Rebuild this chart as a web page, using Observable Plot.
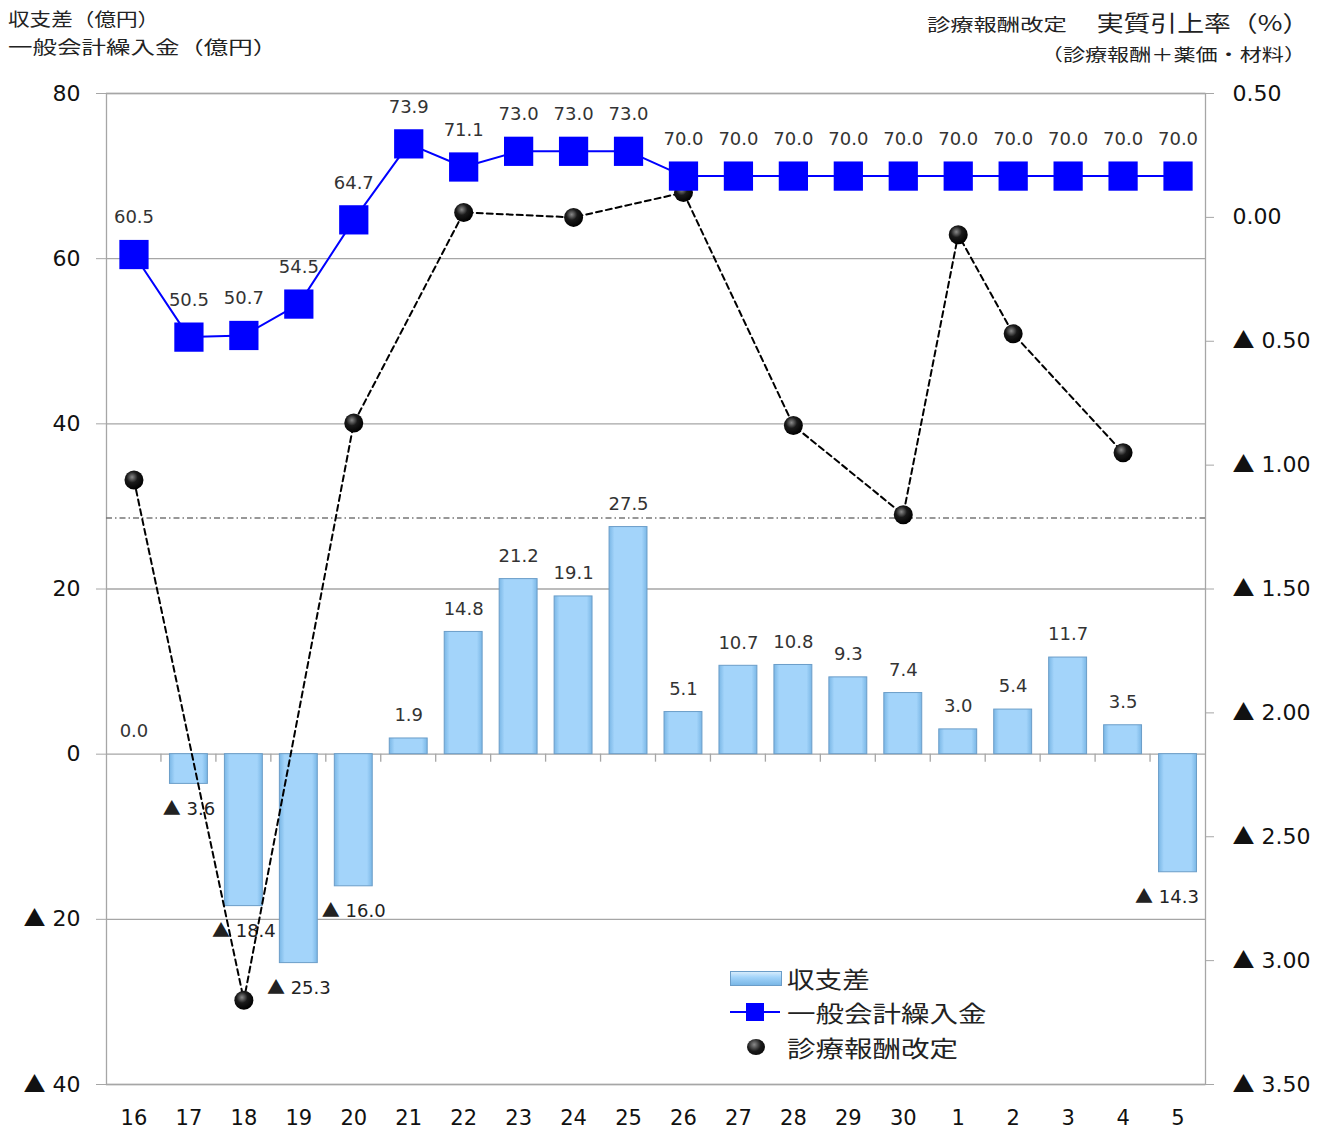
<!DOCTYPE html>
<html><head><meta charset="utf-8">
<script src="https://cdn.jsdelivr.net/npm/d3@7"></script>
<script src="https://cdn.jsdelivr.net/npm/@observablehq/plot@0.6"></script>
<style>
body{margin:0;background:#fff;}
#wrap{position:relative;width:1335px;height:1131px;overflow:hidden;}
.t{position:absolute;font-family:"Noto Sans CJK JP";color:#222;white-space:nowrap;line-height:1;}
</style></head><body><div id="wrap"></div>
<script>
// ---- data ----
const categories = ["16","17","18","19","20","21","22","23","24","25","26","27","28","29","30","1","2","3","4","5"];
const balance = [0.0,-3.6,-18.4,-25.3,-16.0,1.9,14.8,21.2,19.1,27.5,5.1,10.7,10.8,9.3,7.4,3.0,5.4,11.7,3.5,-14.3];
const transfer = [60.5,50.5,50.7,54.5,64.7,73.9,71.1,73.0,73.0,73.0,70.0,70.0,70.0,70.0,70.0,70.0,70.0,70.0,70.0,70.0];
const revisionYears = ["16","18","20","22","24","26","28","30","1","2","4"];
const revisionRates = [-1.06,-3.16,-0.83,0.02,0.00,0.10,-0.84,-1.20,-0.07,-0.47,-0.95];
const referenceLevel = [28.6];
const leftTicks = [80,60,40,20,0,-20,-40];
const rightTicks = [0.5,0,-0.5,-1.0,-1.5,-2.0,-2.5,-3.0,-3.5];

// right axis (%) mapped onto left axis units: 0.50 -> 80, -3.50 -> -40
const toLeft = r => 65 + 30 * r;
const fromLeft = v => (v - 65) / 30;

const rows = categories.map((c, i) => ({cat: c, bal: balance[i], tr: transfer[i]}));
const rev = revisionYears.map((c, i) => ({cat: c, r: revisionRates[i]}));

const fmtL = v => v < 0 ? "▲ " + Math.abs(v) : String(v);
const fmtR = v => { const r = Math.round(fromLeft(v) * 100) / 100; return r < 0 ? "▲ " + Math.abs(r).toFixed(2) : r.toFixed(2); };
const fmtBar = v => v < 0 ? "▲ " + Math.abs(v).toFixed(1) : v.toFixed(1);

function catTicks(index, scales) {
  const x = scales.x, y = scales.y;
  const step = x(categories[1]) - x(categories[0]);
  const gap = (step - x.bandwidth()) / 2;
  const g = d3.create("svg:g").attr("stroke", "#a6a6a6").attr("stroke-width", 1.3);
  const y0 = y(0);
  categories.slice(1).forEach(c => {
    const xx = x(c) - gap;
    g.append("line").attr("x1", xx).attr("x2", xx).attr("y1", y0).attr("y2", y0 + 8);
  });
  return g.node();
}

const chart = Plot.plot({
  width: 1335,
  height: 1131,
  marginLeft: 106,
  marginRight: 130,
  marginTop: 93,
  marginBottom: 47,
  style: {fontFamily: "DejaVu Sans", background: "transparent"},
  x: {type: "band", domain: categories, paddingInner: 0.31, paddingOuter: 0.155, round: false, label: null},
  y: {domain: [-40, 80], label: null},
  marks: [
    Plot.ruleY(leftTicks, {stroke: "#a6a6a6", strokeWidth: 1.3}),
    Plot.frame({stroke: "#a6a6a6", strokeWidth: 1.3}),
    Plot.axisY({anchor: "left", ticks: leftTicks, tickSize: 10, tickPadding: 16, tickFormat: fmtL, fontSize: 22, stroke: "#a6a6a6", fill: "#111", label: null}),
    Plot.axisY({anchor: "right", ticks: rightTicks.map(toLeft), tickSize: 8, tickPadding: 19, tickFormat: fmtR, fontSize: 22, stroke: "#a6a6a6", fill: "#111", label: null}),
    Plot.axisX({tickSize: 0, tickPadding: 26, fontSize: 21, fill: "#111", label: null}),
    Plot.barY(rows, {x: "cat", y: "bal", fill: "url(#barGrad)", stroke: "#6b9dc8", strokeWidth: 1}),
    catTicks,
    Plot.text(rows.filter(d => d.bal >= 0), {x: "cat", y: "bal", text: d => fmtBar(d.bal), dy: -23, fontSize: 18, fill: "#333"}),
    Plot.text(rows.filter((d, i) => d.bal < 0 && i < rows.length - 1), {x: "cat", y: "bal", text: d => fmtBar(d.bal), dy: 25, fontSize: 18, fill: "#222"}),
    Plot.text(rows.filter((d, i) => d.bal < 0 && i === rows.length - 1), {x: "cat", y: "bal", text: d => fmtBar(d.bal), dy: 25, dx: -11, fontSize: 18, fill: "#222"}),
    Plot.ruleY(referenceLevel, {stroke: "#777", strokeWidth: 1.3, strokeDasharray: "6,3,1.5,3"}),
    Plot.line(rev, {x: "cat", y: d => toLeft(d.r), stroke: "#000", strokeWidth: 2, strokeDasharray: "6,4"}),
    Plot.dot(rev, {x: "cat", y: d => toLeft(d.r), r: 9.5, fill: "url(#dotGrad)", stroke: "none"}),
    Plot.line(rows, {x: "cat", y: "tr", stroke: "#0000ff", strokeWidth: 2}),
    Plot.dot(rows, {x: "cat", y: "tr", symbol: "square", r: 16.5, fill: "#0000ff", stroke: "none"}),
    Plot.text(rows, {x: "cat", y: "tr", text: d => d.tr.toFixed(1), dy: -37, fontSize: 18, fill: "#333"})
  ]
});

const svg = d3.select(chart);
const defs = svg.insert("defs", ":first-child");
const bg = defs.append("linearGradient").attr("id", "barGrad").attr("x1", "0").attr("x2", "1").attr("y1", "0").attr("y2", "0");
[["0%", "#7ab7e6"], ["14%", "#a3d4fa"], ["86%", "#a3d4fa"], ["100%", "#7ab7e6"]].forEach(([o, c]) => bg.append("stop").attr("offset", o).attr("stop-color", c));
const dg = defs.append("radialGradient").attr("id", "dotGrad").attr("cx", "0.4").attr("cy", "0.35").attr("r", "0.65");
[["0%", "#8a8a8a"], ["45%", "#1a1a1a"], ["100%", "#000"]].forEach(([o, c]) => dg.append("stop").attr("offset", o).attr("stop-color", c));

// render the triangle marker with the CJK font (larger, full-width glyph)
svg.selectAll("text").each(function() {
  const el = d3.select(this);
  if (el.selectAll("tspan").size() > 0) return;
  const s = el.text();
  if (s.startsWith("▲")) {
    el.text(null);
    el.append("tspan").attr("font-family", "Noto Sans CJK JP").text("▲");
    el.append("tspan").text(s.slice(1));
  }
});

const wrap = document.getElementById("wrap");
chart.style.position = "absolute";
chart.style.left = "0";
chart.style.top = "0";
wrap.appendChild(chart);

function addText(txt, size, k, css, origin) {
  const d = document.createElement("div");
  d.className = "t";
  d.textContent = txt;
  d.style.fontSize = size + "px";
  d.style.transformOrigin = origin || "left center";
  d.style.transform = `translateY(-50%) scaleX(${k})`;
  Object.assign(d.style, css);
  wrap.appendChild(d);
  return d;
}
// headers
addText("収支差（億円）", 18, 1.2, {left: "8px", top: "18px"});
addText("一般会計繰入金（億円）", 18, 1.36, {left: "8px", top: "46px"});
addText("診療報酬改定", 17, 1.37, {left: "927px", top: "23px"});
addText("実質引上率（%）", 22, 1.22, {right: "26px", top: "21px"}, "right center");
addText("（診療報酬＋薬価・材料）", 17, 1.3, {right: "29px", top: "53px"}, "right center");

// legend
const lgBar = document.createElement("div");
Object.assign(lgBar.style, {position: "absolute", left: "730px", top: "971px", width: "50px", height: "13px",
  background: "linear-gradient(to bottom,#d6ecfc,#a3d4fa 40%,#7ab7e6)", border: "1px solid #6b9dc8"});
wrap.appendChild(lgBar);
const lgLine = document.createElement("div");
Object.assign(lgLine.style, {position: "absolute", left: "730px", top: "1011px", width: "50px", height: "2px", background: "#0000ff"});
wrap.appendChild(lgLine);
const lgSq = document.createElement("div");
Object.assign(lgSq.style, {position: "absolute", left: "746px", top: "1003px", width: "18px", height: "18px", background: "#0000ff"});
wrap.appendChild(lgSq);
const lgDot = document.createElement("div");
Object.assign(lgDot.style, {position: "absolute", left: "747px", top: "1039px", width: "18px", height: "16px", borderRadius: "50%",
  background: "radial-gradient(circle at 40% 35%,#8a8a8a,#1a1a1a 45%,#000)"});
wrap.appendChild(lgDot);
addText("収支差", 23, 1.2, {left: "787px", top: "978px"});
addText("一般会計繰入金", 23, 1.24, {left: "787px", top: "1012px"});
addText("診療報酬改定", 23, 1.24, {left: "787px", top: "1047px"});
</script>
</body></html>
